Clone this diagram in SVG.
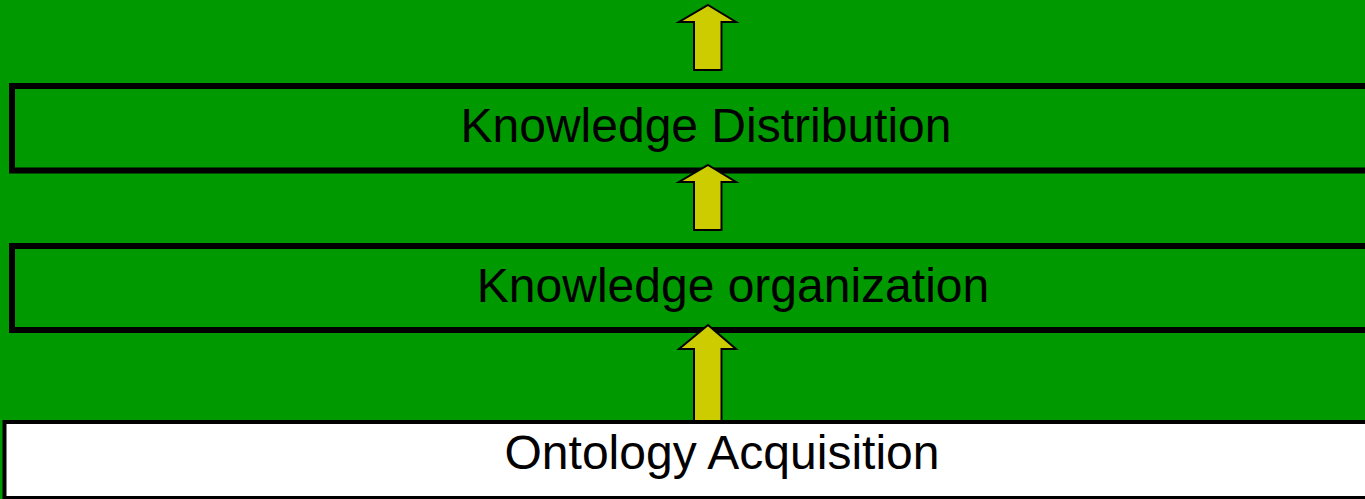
<svg xmlns="http://www.w3.org/2000/svg" width="1365" height="499" viewBox="0 0 1365 499">
<style>
.layer{fill:#009900;stroke:#000;stroke-width:6}
.base{fill:#fff;stroke:#000;stroke-width:4}
.lbl{font-family:"Liberation Sans",Arial,sans-serif;font-size:48px;fill:#000;text-anchor:middle}
.arr{fill:#cccc00;stroke:#000;stroke-width:2;stroke-linejoin:miter}
</style>
<rect width="1365" height="499" fill="#009900"/>
<g id="knowledge-distribution">
<rect class="layer" x="12" y="86" width="1370" height="84.5"/>
<text class="lbl" x="706" y="142">Knowledge Distribution</text>
</g>
<g id="knowledge-organization">
<rect class="layer" x="12" y="246" width="1370" height="84"/>
<text class="lbl" x="733" y="302">Knowledge organization</text>
</g>
<g id="connectors">
<path class="arr" d="M708 5 L736 22 L721.5 22 L721.5 70 L694 70 L694 22 L679 22 Z"/>
<path class="arr" d="M708 165 L736 182 L721.5 182 L721.5 230 L694 230 L694 182 L679 182 Z"/>
<path class="arr" d="M708 325 L736 349 L721.5 349 L721.5 422 L694 422 L694 349 L679 349 Z"/>
</g>
<g id="ontology-acquisition">
<rect class="base" x="4.5" y="422" width="1380" height="76"/>
<text class="lbl" x="722" y="469">Ontology Acquisition</text>
</g>
</svg>
